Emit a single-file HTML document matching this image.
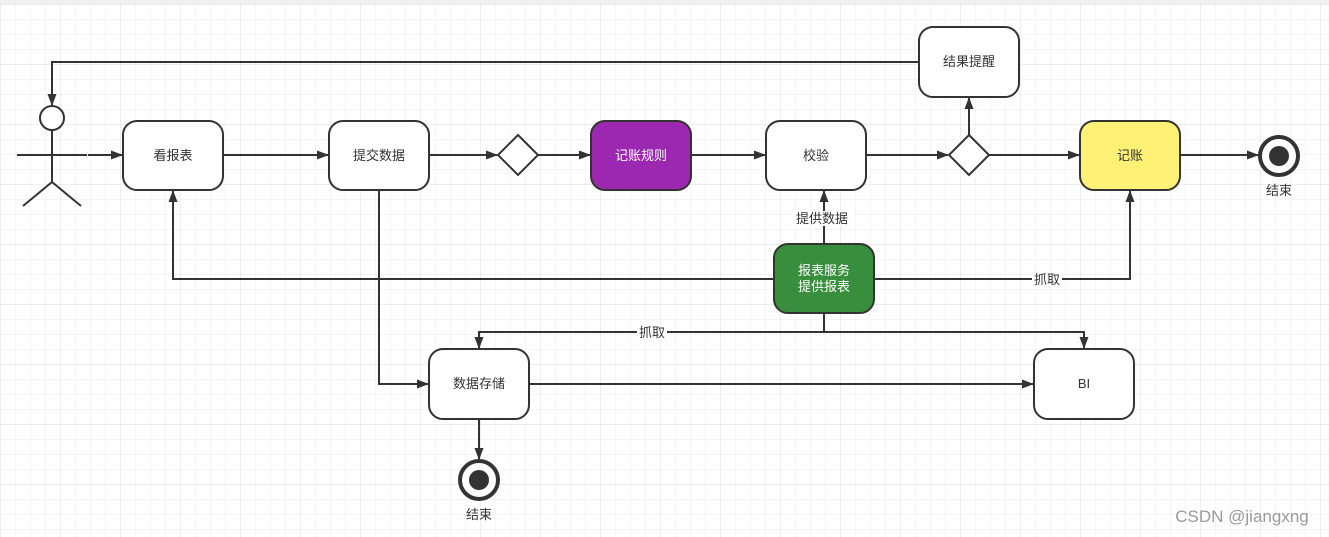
<!DOCTYPE html>
<html><head><meta charset="utf-8"><style>
html,body{margin:0;padding:0;background:#fff;}
svg{display:block;}
text{font-family:"Liberation Sans","Noto Sans CJK SC",sans-serif;font-size:13px;}
</style></head><body>
<svg width="1329" height="537" viewBox="0 0 1329 537" xmlns="http://www.w3.org/2000/svg">
<defs>
<pattern id="minor" x="0.5" y="4.5" width="15" height="15" patternUnits="userSpaceOnUse">
<path d="M15 0H0V15" fill="none" stroke="#ebebeb" stroke-width="1"/>
</pattern>
<pattern id="major" x="0.5" y="4.5" width="60" height="60" patternUnits="userSpaceOnUse">
<path d="M60 0H0V60" fill="none" stroke="#dddddd" stroke-width="1"/>
</pattern>
<marker id="a" markerWidth="12" markerHeight="12" refX="11" refY="6" orient="auto" markerUnits="userSpaceOnUse">
<path d="M0,1.5 L12,6 L0,10.5 Z" fill="#333"/>
</marker>
</defs>
<rect width="1329" height="537" fill="#fff"/>
<rect y="4" width="1329" height="533" fill="url(#minor)"/>
<rect y="4" width="1329" height="533" fill="url(#major)"/>
<rect width="1329" height="4" fill="#f0f0f0"/>

<g stroke="#333" stroke-width="2" fill="none">
<circle cx="52" cy="118" r="12" fill="#fff"/>
<path d="M52 130V182M17 155H87M52 182L23 206M52 182L81 206"/>
<path d="M88 155H122" marker-end="url(#a)"/>
<path d="M223 155H328" marker-end="url(#a)"/>
<path d="M429 155H497" marker-end="url(#a)"/>
<path d="M538 155H590" marker-end="url(#a)"/>
<path d="M691 155H765" marker-end="url(#a)"/>
<path d="M866 155H948" marker-end="url(#a)"/>
<path d="M989 155H1079" marker-end="url(#a)"/>
<path d="M1180 155H1258" marker-end="url(#a)"/>
<path d="M969 135V98" marker-end="url(#a)"/>
<path d="M919 62H52V105" marker-end="url(#a)"/>
<path d="M824 244V191" marker-end="url(#a)"/>
<path d="M774 279H173V191" marker-end="url(#a)"/>
<path d="M874 279H1130V191" marker-end="url(#a)"/>
<path d="M824 313V332H479V348" marker-end="url(#a)"/>
<path d="M824 332H1084V348" marker-end="url(#a)"/>
<path d="M379 190V384H428" marker-end="url(#a)"/>
<path d="M529 384H1033" marker-end="url(#a)"/>
<path d="M479 419V459" marker-end="url(#a)"/>
<rect x="123" y="121" width="100" height="69" rx="14" fill="#fff"/>
<rect x="329" y="121" width="100" height="69" rx="14" fill="#fff"/>
<path d="M518 135L538 155L518 175L498 155Z" fill="#fff"/>
<rect x="591" y="121" width="100" height="69" rx="14" fill="#9c27b0"/>
<rect x="766" y="121" width="100" height="69" rx="14" fill="#fff"/>
<path d="M969 135L989 155L969 175L949 155Z" fill="#fff"/>
<rect x="1080" y="121" width="100" height="69" rx="14" fill="#fff176"/>
<rect x="919" y="27" width="100" height="70" rx="14" fill="#fff"/>
<rect x="774" y="244" width="100" height="69" rx="14" fill="#388e3c"/>
<rect x="429" y="349" width="100" height="70" rx="14" fill="#fff"/>
<rect x="1034" y="349" width="100" height="70" rx="14" fill="#fff"/>
<circle cx="1279" cy="156" r="19" fill="#fff" stroke-width="4"/>
<circle cx="479" cy="480" r="19" fill="#fff" stroke-width="4"/>
</g>
<circle cx="1279" cy="156" r="10" fill="#333"/>
<circle cx="479" cy="480" r="10" fill="#333"/>
<g text-anchor="middle" fill="#333">
<text x="173" y="160">看报表</text>
<text x="379" y="160">提交数据</text>
<text x="641" y="160" fill="#fff">记账规则</text>
<text x="816" y="160">校验</text>
<text x="1130" y="160">记账</text>
<text x="969" y="66">结果提醒</text>
<text x="824" y="275" fill="#fff">报表服务</text>
<text x="824" y="291" fill="#fff">提供报表</text>
<text x="479" y="388">数据存储</text>
<text x="1084" y="388">BI</text>
<text x="1279" y="195">结束</text>
<text x="479" y="519">结束</text>
</g>
<g text-anchor="middle" fill="#333">
<rect x="792" y="211" width="62" height="15" fill="#fff"/>
<text x="822" y="223">提供数据</text>
<rect x="1032" y="272" width="30" height="15" fill="#fff"/>
<text x="1047" y="284">抓取</text>
<rect x="637" y="325" width="30" height="15" fill="#fff"/>
<text x="652" y="337">抓取</text>
</g>
<text x="1242" y="522" text-anchor="middle" fill="#999" style="font-size:17px">CSDN @jiangxng</text>
</svg>
</body></html>
